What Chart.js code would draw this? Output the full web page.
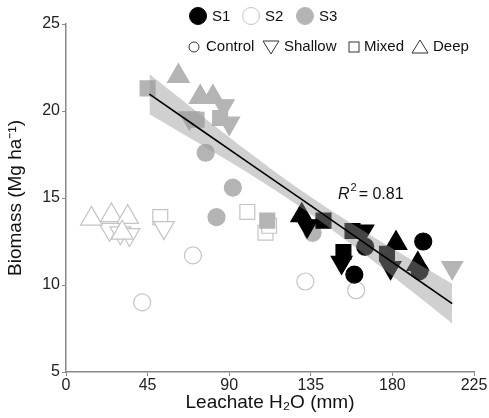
<!DOCTYPE html>
<html>
<head>
<meta charset="utf-8">
<script src="https://cdn.jsdelivr.net/npm/chart.js@4"></script>
<style>
  body { margin: 0; background: #fff; }
  #wrap { width: 489px; height: 418px; }
</style>
</head>
<body>
<div id="wrap"><canvas id="biomassChart" width="489" height="418"></canvas></div>
<script>
// data: [leachate mm, biomass Mg/ha]
const s1Control = [[159, 10.6], [165, 12.2], [197, 12.5], [195, 10.8]];
const s1Shallow = [[133, 13.4], [152, 11.3], [164, 13.1], [179, 11.0]];
const s1Mixed   = [[142, 13.7], [158, 13.1], [153, 11.9], [177, 11.8]];
const s1Deep    = [[130, 14.0], [182, 12.4], [194, 11.2]];

const s2Control = [[42, 9.0], [70, 11.7], [132, 10.2], [160, 9.7]];
const s2Shallow = [[24, 13.2], [30, 13.0], [35, 12.9], [54, 13.3]];
const s2Mixed   = [[52, 13.9], [100, 14.2], [110, 13.0], [112, 13.4]];
const s2Deep    = [[14, 13.8], [25, 14.0], [34, 13.9], [31, 13.0]];

const s3Control = [[77, 17.6], [92, 15.6], [83, 13.9], [136, 13.0]];
const s3Shallow = [[68, 19.6], [87, 20.3], [90, 19.3], [213, 11.0]];
const s3Mixed   = [[45, 21.3], [72, 19.5], [85, 19.6], [111, 13.7]];
const s3Deep    = [[62, 22.0], [74, 20.8], [81, 20.8]];

// regression line and its confidence band
const fitX     = [46, 70, 100, 130, 160, 190, 213];
const fitY     = [20.97, 19.24, 17.08, 14.92, 12.75, 10.59, 8.93];
const bandHigh = [22.12, 20.13, 17.70, 15.42, 13.37, 11.48, 10.07];
const bandLow  = [19.82, 18.35, 16.46, 14.42, 12.13, 9.70, 7.79];

const xTicks = [0, 45, 90, 135, 180, 225];
const yTicks = [5, 10, 15, 20, 25];

const FONT = '"Liberation Sans", Arial, sans-serif';

const sites = {
    S1: { fill: '#000000', border: '#000000' },
    S2: { fill: '#ffffff', border: '#c4c4c4' },
    S3: { fill: '#b4b4b4', border: '#b4b4b4' }
};
const shapes = {
    Control: { style: 'circle', radius: 8.5, rotation: 0 },
    Shallow: { style: 'triangle', radius: 12, rotation: 180 },
    Mixed:   { style: 'rect', radius: 10.5, rotation: 0 },
    Deep:    { style: 'triangle', radius: 12.5, rotation: 0 }
};

function pts(arr) {
    return arr.map(p => ({ x: p[0], y: p[1] }));
}

function markerSet(site, treat, arr, order) {
    const c = sites[site], s = shapes[treat];
    return {
        type: 'scatter',
        label: site + ' ' + treat,
        data: pts(arr),
        pointStyle: s.style,
        pointRadius: s.radius,
        pointHoverRadius: s.radius,
        rotation: s.rotation,
        backgroundColor: c.fill,
        borderColor: c.border,
        borderWidth: 1.2,
        order: order
    };
}

const lineData = fitX.map((x, i) => ({ x: x, y: fitY[i] }));
const highData = fitX.map((x, i) => ({ x: x, y: bandHigh[i] }));
const lowData  = fitX.map((x, i) => ({ x: x, y: bandLow[i] }));

const datasets = [
    { type: 'line', label: 'fit', data: lineData, borderColor: '#000', borderWidth: 1.6,
      pointRadius: 0, fill: false, tension: 0, order: 0 },
    { type: 'line', label: 'ci high', data: highData, borderWidth: 0, borderColor: 'rgba(0,0,0,0)',
      pointRadius: 0, fill: '+1', backgroundColor: 'rgba(150,150,150,0.45)', tension: 0.4, order: 1 },
    { type: 'line', label: 'ci low', data: lowData, borderWidth: 0, borderColor: 'rgba(0,0,0,0)',
      pointRadius: 0, fill: false, tension: 0.4, order: 2 },
    // S2 first (bottom), then S3, then S1
    markerSet('S2', 'Control', s2Control, 12),
    markerSet('S2', 'Mixed', s2Mixed, 11),
    markerSet('S2', 'Shallow', s2Shallow, 10),
    markerSet('S2', 'Deep', s2Deep, 9),
    markerSet('S3', 'Control', s3Control, 8),
    markerSet('S3', 'Shallow', s3Shallow, 7),
    markerSet('S3', 'Mixed', s3Mixed, 6),
    markerSet('S3', 'Deep', s3Deep, 5),
    markerSet('S1', 'Control', s1Control, 4),
    markerSet('S1', 'Shallow', s1Shallow, 3),
    markerSet('S1', 'Mixed', s1Mixed, 3),
    markerSet('S1', 'Deep', s1Deep, 3)
];

// legend + R2 label drawn by hand
const extras = {
    id: 'extras',
    afterDraw(chart) {
        const ctx = chart.ctx;
        ctx.save();
        ctx.textBaseline = 'middle';
        ctx.fillStyle = '#111';
        ctx.font = '15px ' + FONT;

        // row 1 : sites
        const row1 = [['S1', 198], ['S2', 251], ['S3', 305]];
        row1.forEach(r => {
            const c = sites[r[0]];
            ctx.beginPath();
            ctx.arc(r[1], 16, 8.5, 0, Math.PI * 2);
            ctx.fillStyle = c.fill;
            ctx.fill();
            ctx.strokeStyle = c.border;
            ctx.lineWidth = 1;
            ctx.stroke();
            ctx.fillStyle = '#111';
            ctx.fillText(r[0], r[1] + 14, 17);
        });

        // row 2 : treatments
        const y2 = 47;
        ctx.strokeStyle = '#333';
        ctx.lineWidth = 1;
        ctx.beginPath();
        ctx.arc(194, y2, 5, 0, Math.PI * 2);
        ctx.stroke();
        ctx.fillText('Control', 206, y2);

        ctx.beginPath();
        ctx.moveTo(263, y2 - 6);
        ctx.lineTo(279, y2 - 6);
        ctx.lineTo(271, y2 + 7);
        ctx.closePath();
        ctx.stroke();
        ctx.fillText('Shallow', 284, y2);

        ctx.strokeRect(349, y2 - 5, 10, 10);
        ctx.fillText('Mixed', 364, y2);

        ctx.beginPath();
        ctx.moveTo(412, y2 + 6);
        ctx.lineTo(428, y2 + 6);
        ctx.lineTo(420, y2 - 7);
        ctx.closePath();
        ctx.stroke();
        ctx.fillText('Deep', 433, y2);

        // R squared
        const xs = chart.scales.x, ys = chart.scales.y;
        let px = xs.getPixelForValue(150), py = ys.getPixelForValue(15.2);
        ctx.font = 'italic 16px ' + FONT;
        ctx.fillText('R', px, py);
        px += ctx.measureText('R').width + 1;
        ctx.font = '11px ' + FONT;
        ctx.fillText('2', px, py - 7);
        px += ctx.measureText('2').width + 2;
        ctx.font = '16px ' + FONT;
        ctx.fillText('= 0.81', px, py);
        ctx.restore();
    }
};

new Chart(document.getElementById('biomassChart'), {
    type: 'scatter',
    data: { datasets: datasets },
    options: {
        responsive: false,
        animation: false,
        layout: { padding: { top: 24, right: 15, left: 0, bottom: 0 } },
        plugins: {
            legend: { display: false },
            tooltip: { enabled: false }
        },
        scales: {
            x: {
                type: 'linear',
                min: 0,
                max: 225,
                afterBuildTicks: s => { s.ticks = xTicks.map(v => ({ value: v })); },
                afterFit: s => { s.height = 46; },
                grid: { drawOnChartArea: false, drawTicks: true, tickLength: 4, color: '#888' },
                border: { display: true, color: '#888', width: 1.5 },
                ticks: { color: '#222', font: { family: FONT, size: 16 }, padding: 0, maxRotation: 0 },
                title: { display: true, text: 'Leachate H\u2082O (mm)', color: '#111',
                         font: { family: FONT, size: 19 }, padding: { top: 0 } }
            },
            y: {
                min: 5,
                max: 25,
                afterBuildTicks: s => { s.ticks = yTicks.map(v => ({ value: v })); },
                afterFit: s => { s.width = 66; },
                grid: { drawOnChartArea: false, drawTicks: true, tickLength: 4, color: '#888' },
                border: { display: true, color: '#888', width: 1.5 },
                ticks: { color: '#222', font: { family: FONT, size: 16 }, padding: 2 },
                title: { display: true, text: 'Biomass (Mg ha\u207B\u00B9)', color: '#111',
                         font: { family: FONT, size: 19 }, padding: { bottom: 4 } }
            }
        }
    },
    plugins: [extras]
});
</script>
</body>
</html>
